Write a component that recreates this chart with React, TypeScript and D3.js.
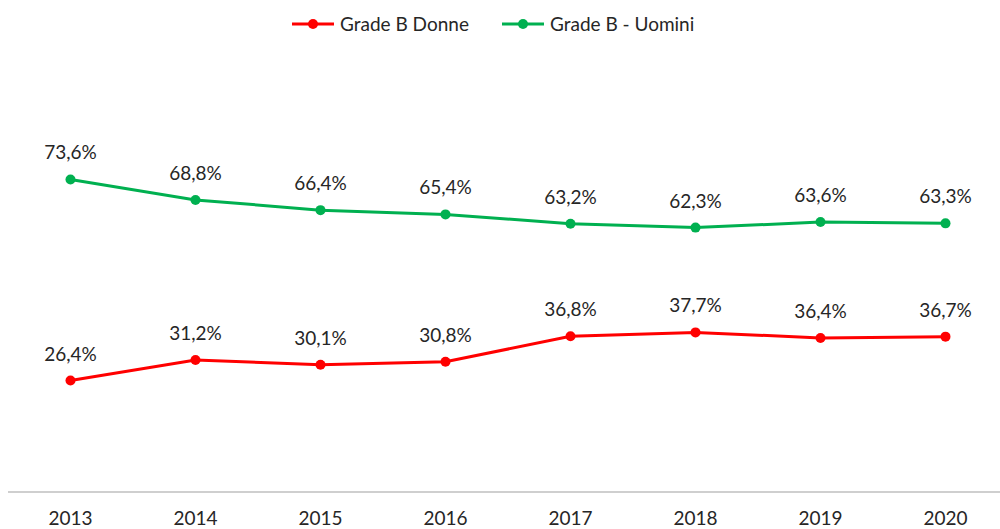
import React, { useEffect, useRef } from "react";
import * as d3 from "d3";

const years = ["2013", "2014", "2015", "2016", "2017", "2018", "2019", "2020"];
const donne = [26.4, 31.2, 30.1, 30.8, 36.8, 37.7, 36.4, 36.7];
const uomini = [73.6, 68.8, 66.4, 65.4, 63.2, 62.3, 63.6, 63.3];

const seriesNames = ["Grade B Donne", "Grade B - Uomini"];
const seriesColors = ["#ff0000", "#00b050"];

const W = 1000;
const H = 529;

export default function App() {
  const ref = useRef<SVGSVGElement>(null);

  useEffect(() => {
    const svg = d3.select(ref.current);
    svg.selectAll("*").remove();

    const font = "Lato, 'Open Sans', sans-serif";

    // x positions: one band per year, point in middle
    const x = d3.scaleBand().domain(years).range([8, 1008]);
    const cx = (d: string) => (x(d) as number) + x.bandwidth() / 2;
    const y = d3.scaleLinear().domain([0, 100]).range([493, 67]);

    // axis line
    svg
      .append("line")
      .attr("x1", 8)
      .attr("x2", W)
      .attr("y1", 492)
      .attr("y2", 492)
      .attr("stroke", "#bfbfbf")
      .attr("stroke-width", 1.5);

    // year labels
    svg
      .selectAll(".year")
      .data(years)
      .join("text")
      .attr("class", "year")
      .attr("x", (d) => cx(d))
      .attr("y", 525)
      .attr("text-anchor", "middle")
      .attr("font-family", font)
      .attr("font-size", 19)
      .attr("fill", "#262626")
      .text((d) => d);

    const series = [donne, uomini];
    const line = d3
      .line<number>()
      .x((d, i) => cx(years[i]))
      .y((d) => y(d));

    series.forEach((vals, s) => {
      const g = svg.append("g");
      g.append("path")
        .datum(vals)
        .attr("d", line)
        .attr("fill", "none")
        .attr("stroke", seriesColors[s])
        .attr("stroke-width", 3);
      g.selectAll("circle")
        .data(vals)
        .join("circle")
        .attr("cx", (d, i) => cx(years[i]))
        .attr("cy", (d) => y(d))
        .attr("r", 5)
        .attr("fill", seriesColors[s]);
      g.selectAll("text")
        .data(vals)
        .join("text")
        .attr("x", (d, i) => cx(years[i]))
        .attr("y", (d) => y(d) - 20)
        .attr("text-anchor", "middle")
        .attr("font-family", font)
        .attr("font-size", 19)
        .attr("fill", "#262626")
        .text((d) => d.toFixed(1).replace(".", ",") + "%");
    });

    // legend
    const legendX = [292, 502];
    seriesNames.forEach((name, s) => {
      const lg = svg.append("g").attr("transform", `translate(${legendX[s]},24)`);
      lg.append("line")
        .attr("x1", 0)
        .attr("x2", 42)
        .attr("stroke", seriesColors[s])
        .attr("stroke-width", 3);
      lg.append("circle").attr("cx", 21).attr("r", 5).attr("fill", seriesColors[s]);
      lg.append("text")
        .attr("x", 48)
        .attr("y", 7)
        .attr("font-family", font)
        .attr("font-size", 19)
        .attr("fill", "#262626")
        .text(name);
    });
  }, []);

  return (
    <svg
      ref={ref}
      width={W}
      height={H}
      style={{ position: "absolute", left: 0, top: 0, background: "#fff" }}
    />
  );
}
